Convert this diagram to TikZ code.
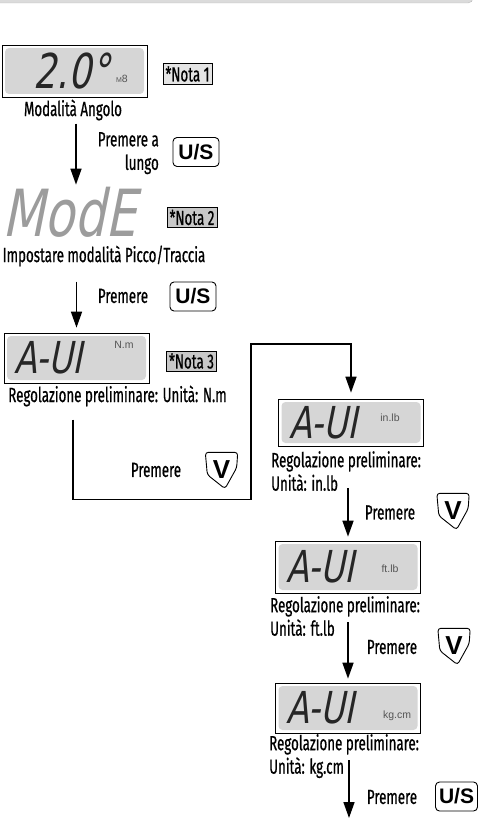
\documentclass[tikz,border=0pt]{standalone}
\usepackage{fontspec}
\setmainfont{Fira Sans}[FakeStretch=0.65,FakeBold=0.7]
\newfontfamily\lcdfont{DejaVu Sans}[FakeStretch=0.75,FakeSlant=0.2]
\newfontfamily\keyfont{Liberation Sans}
\usetikzlibrary{arrows.meta,positioning}
\definecolor{lcdgray}{HTML}{D6D6D6}
\definecolor{notagray}{HTML}{C8C8C8}
\definecolor{modegray}{HTML}{9C9C9C}
\definecolor{unitgray}{HTML}{555555}
\newcommand{\lblsize}{\fontsize{20.5}{23.5}\selectfont}
\newcommand{\segsize}[1]{\lcdfont\fontsize{#1}{#1}\selectfont}

\begin{document}
\begin{tikzpicture}[x=1pt,y=-1pt]
\tikzstyle{lcd}=[draw,line width=0.7pt,minimum width=145pt,minimum height=50pt,inner sep=0pt,
  path picture={\fill[lcdgray,rounded corners=4pt] ([shift={(3pt,-3pt)}]path picture bounding box.north west) rectangle ([shift={(-3pt,3pt)}]path picture bounding box.south east);}]
\tikzstyle{lcdtxt}=[inner sep=0pt,anchor=west,text=black!85]
\tikzstyle{unit}=[inner sep=0pt,font=\keyfont\fontsize{10.5}{11}\selectfont,text=unitgray]
\tikzstyle{lbl}=[inner sep=0pt,font=\lblsize]
\tikzstyle{nota}=[draw,line width=0.6pt,fill=notagray,inner xsep=2.5pt,inner ysep=2.5pt,font=\lblsize]
\tikzstyle{uskey}=[draw,line width=0.9pt,rounded corners=4pt,minimum width=46pt,minimum height=29pt,inner sep=0pt,font=\keyfont\bfseries\fontsize{21}{21}\selectfont]
\tikzstyle{vkey}=[minimum width=32pt,minimum height=36pt,inner sep=0pt,font=\keyfont\bfseries\fontsize{26}{26}\selectfont,
  append after command={\pgfextra{\draw[line width=0.9pt,rounded corners=3pt]
   (\tikzlastnode.north west) -- (\tikzlastnode.north east) -- ([shift={(-1pt,21pt)}]\tikzlastnode.south east)
   -- ([xshift=3.5pt]\tikzlastnode.south) -- ([shift={(2pt,14pt)}]\tikzlastnode.south west) -- cycle;}}]
\tikzstyle{arr}=[line width=1.6pt,-{Triangle[width=11pt,length=16pt]}]

\useasboundingbox (0,0) rectangle (478,818);
\draw[gray!55,fill=gray!28,rounded corners=5pt] (-10,-12) rectangle (473,3);

% angle mode
\node[lcd,minimum height=52pt] (lcd1) at (74.5,71) {};
\node[lcdtxt,font=\segsize{48}] (d1) at ([xshift=32pt]lcd1.west) {2.0°};
\node[unit] (u1) at (122,79) {{\fontsize{7}{7}\selectfont M}8};
\node[nota,fill=notagray!50] (n1) at (187.5,74) {*Nota 1};
\node[lbl] (ang) at (73,110) {Modalità Angolo};

\node[lbl,anchor=north east,align=right] (lp1) at (159,132) {Premere a\\lungo};
\node[uskey] (k1) at (196,152) {U/S};

% peak/track mode
\node[lcdtxt,font=\segsize{65},text=modegray] (mode) at (2,212) {ModE};
\node[nota] (n2) at (192,217.5) {*Nota 2};
\node[lbl] (pt) at (104,256) {Impostare modalità Picco/Traccia};
\draw[arr,shorten <=3pt,shorten >=2pt] ([xshift=3pt]ang.south) -- ([xshift=3pt]ang.south |- mode.north);

\node[lbl] (lp2) at (123,296) {Premere};
\node[uskey] (k2) at (193,296.5) {U/S};

% unit N.m
\node[lcd] (lcd3) at (76.5,358) {};
\node[lcdtxt,font=\segsize{44}] (d3) at ([xshift=11pt]lcd3.west) {A-UI};
\node[unit] (u3) at (124,345) {N.m};
\node[nota] (n3) at (191.5,361) {*Nota 3};
\node[lbl] (lb3) at (117.5,396) {Regolazione preliminare: Unità: N.m};
\draw[arr,shorten <=15pt,shorten >=5pt] (lcd3.north |- pt.south) -- (lcd3.north);

% unit in.lb
\node[lcd,minimum height=47pt] (lcd4) at (351,422.5) {};
\node[lcdtxt,font=\segsize{44}] (d4) at ([xshift=11pt]lcd4.west) {A-UI};
\node[unit] (u4) at (390,418) {in.lb};
\node[lbl,anchor=north west,align=left] (lb4) at (271,451) {Regolazione preliminare:\\Unità: in.lb};

\coordinate (turn) at (251,344);
\draw[arr,shorten >=6pt] (lcd3.south |- lb3.south) ++(-3.5,13) -- ++(0,80) -| (turn) -| (lcd4.north);
\node[lbl] (lpc) at (156,470) {Premere};
\node[vkey] (v1) at (221.5,470.5) {\raisebox{2pt}{V}};

% unit ft.lb
\node[lcd,minimum height=52pt] (lcd5) at (348,567) {};
\node[lcdtxt,font=\segsize{44}] (d5) at ([xshift=11pt]lcd5.west) {A-UI};
\node[unit] (u5) at (390,569) {ft.lb};
\node[lbl,anchor=north west,align=left] (lb5) at (270,596) {Regolazione preliminare:\\Unità: ft.lb};
\draw[arr,shorten <=42pt,shorten >=4pt] (lcd4.south -| lcd5.north) -- (lcd5.north);
\node[lbl] (lp4) at (390,512.5) {Premere};
\node[vkey] (v2) at (453,511.5) {\raisebox{2pt}{V}};

% unit kg.cm
\node[lcd] (lcd6) at (348,708) {};
\node[lcdtxt,font=\segsize{44}] (d6) at ([xshift=11pt]lcd6.west) {A-UI};
\node[unit] (u6) at (397,716) {kg.cm};
\node[lbl,anchor=north west,align=left] (lb6) at (269,734) {Regolazione preliminare:\\Unità: kg.cm};
\draw[arr,shorten <=29pt,shorten >=4pt] (lcd5.south) -- (lcd6.north);
\node[lbl] (lp5) at (392,647) {Premere};
\node[vkey] (v3) at (454,646.5) {\raisebox{2pt}{V}};

\coordinate (out) at (349,818);
\draw[arr,shorten <=27pt] (lcd6.south -| out) -- (out);
\node[lbl] (lp6) at (392,797) {Premere};
\node[uskey,minimum width=42pt] (k3) at (456.5,796.5) {U/S};
\end{tikzpicture}
\end{document}
